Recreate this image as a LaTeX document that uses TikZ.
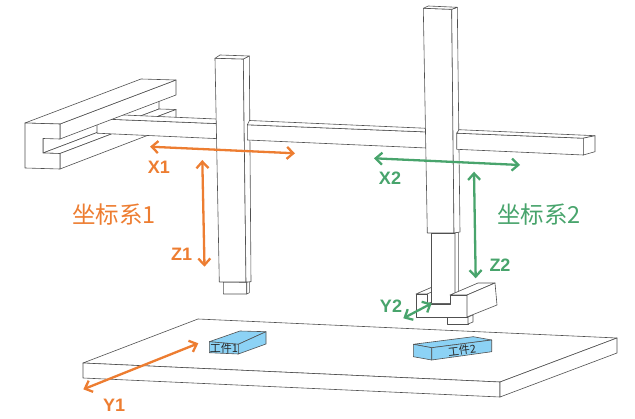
\documentclass[tikz,border=0pt]{standalone}
\usepackage{fontspec}
\setmainfont{Liberation Sans}
\newfontfamily\cjk{Noto Sans CJK SC}
\usetikzlibrary{arrows.meta}
\definecolor{org}{RGB}{237,125,49}
\definecolor{grn}{RGB}{72,164,108}
\definecolor{wp}{RGB}{140,210,245}
\definecolor{ln}{RGB}{80,80,80}
\tikzset{
  face/.style={fill=white,draw=ln,line width=0.6pt,line join=round},
  wpface/.style={fill=wp,draw=ln,line width=0.6pt,line join=round},
  dblarrow/.style={line width=2.3pt,{Straight Barb[length=6.5pt,width=12pt]}-{Straight Barb[length=6.5pt,width=12pt]}},
  axlbl/.style={font=\bfseries\fontsize{18}{18}\selectfont,inner sep=0pt},
  cjklbl/.style={font=\cjk\fontsize{23.5}{23.5}\selectfont,inner sep=0pt},
  wplbl/.style={font=\cjk\fontsize{11}{11}\selectfont,text=black!85,inner sep=0pt}
}
\begin{document}
\begin{tikzpicture}[x=1pt,y=-1pt]
\useasboundingbox (0,0) rectangle (635,419);

% ---------- base plate ----------
\draw[face] (83,363) -- (198,319) -- (617,338) -- (500,382) -- cycle;
\draw[face] (83,363) -- (500,382) -- (500,397) -- (83,378) -- cycle;
\draw[face] (500,382) -- (617,338) -- (617,353) -- (500,397) -- cycle;

% ---------- workpiece 1 ----------
\draw[wpface] (209.3,341.7) -- (240,331) -- (266,331.7) -- (238.3,344.3) -- cycle;
\draw[wpface] (209.3,341.7) -- (238.3,344.3) -- (238.3,354) -- (209.3,352.7) -- cycle;
\draw[wpface] (238.3,344.3) -- (266,331.7) -- (266,344) -- (238.3,354) -- cycle;
\node[wplbl] (w1) at (224,348.5) {工件1};

% ---------- workpiece 2 ----------
\draw[wpface] (413.3,344.3) -- (473.3,336.7) -- (491.7,340) -- (431.7,347.7) -- cycle;
\draw[wpface] (413.3,344.3) -- (431.7,347.7) -- (431.7,360) -- (413.3,356.7) -- cycle;
\draw[wpface] (431.7,347.7) -- (491.7,340) -- (491.7,351.7) -- (431.7,360) -- cycle;
\node[wplbl,rotate=7] (w2) at (462,350.5) {工件2};

% ---------- C channel (back parts) ----------
\draw[face] (43,138.5) -- (159,94.5) -- (159,109) -- (43,153) -- cycle;
\draw[face] (43,153) -- (60,153.5) -- (176,109.5) -- (159,109) -- cycle;
\draw[face] (60,153.5) -- (176,109.5) -- (176,124.5) -- (60,169) -- cycle;

% ---------- beam segment A ----------
\draw[face] (97,118.8) -- (232,124.2) -- (232,139.3) -- (97,133.2) -- cycle;
\draw[face] (97,118.8) -- (112,114.5) -- (232,119.7) -- (232,124.2) -- cycle;

% ---------- C channel (front parts) ----------
\draw[face] (60,124) -- (176,80) -- (176,95) -- (60,139) -- cycle;
\draw[face] (25,123) -- (141,79) -- (176,80) -- (60,124) -- cycle;
\draw[face] (25,123) -- (60,124) -- (60,139) -- (43,138.5) -- (43,153) -- (60,153.5) -- (60,169) -- (25,168) -- cycle;

% ---------- column 1 ----------
\draw[face] (223.3,282) -- (246.7,282.3) -- (246.7,294) -- (223.3,294) -- cycle;
\draw[face] (246.7,282.3) -- (249.3,281.7) -- (249.3,292.7) -- (246.7,294) -- cycle;
\draw[face] (215,58.3) -- (243.3,59) -- (246,282) -- (219.3,282) -- cycle;
\draw[face] (243.3,59) -- (249.3,56) -- (251,281.7) -- (246,282) -- cycle;
\draw[face] (215,58.3) -- (243.3,59) -- (249.3,56) -- (220,55) -- cycle;

% ---------- beam segment B ----------
\draw[face] (247.3,124.8) -- (440,132.5) -- (440,148.6) -- (247.3,140) -- cycle;
\draw[face] (247.3,124.8) -- (249.5,120.5) -- (440,128.9) -- (440,132.5) -- cycle;

% ---------- gripper (back parts) ----------
\draw[face] (447,317) -- (468,317) -- (468,324) -- (447,324) -- cycle;
\draw[face] (468,317) -- (473,315) -- (473,322) -- (468,324) -- cycle;
\draw[face] (416,294) -- (427,294) -- (455,282) -- (444,282) -- cycle;
\draw[face] (427,304) -- (450,304) -- (478,292) -- (455,292) -- cycle;

% ---------- column 2 ----------
\draw[face] (431.7,233) -- (455,233) -- (455,303) -- (431.7,303) -- cycle;
\draw[face] (455,233) -- (458.3,232) -- (458.3,300) -- (455,303) -- cycle;
\draw[face] (423.3,8.3) -- (451.7,9.3) -- (454,233) -- (427.3,233) -- cycle;
\draw[face] (451.7,9.3) -- (457.3,7.3) -- (460,232) -- (454,233) -- cycle;
\draw[face] (423.3,8.3) -- (451.7,9.3) -- (457.3,7.3) -- (428.3,6) -- cycle;

% ---------- gripper (front parts) ----------
\draw[face] (416,294) -- (427,294) -- (427,304) -- (450,304) -- (450,295) -- (467,295) -- (467,317) -- (416,317) -- cycle;
\draw[face] (450,295) -- (467,295) -- (495,283) -- (478,283) -- cycle;
\draw[face] (467,295) -- (495,283) -- (497,305) -- (467,317) -- cycle;

% ---------- beam segment C ----------
\draw[face] (456.7,133.2) -- (583.3,138.2) -- (583.3,155) -- (456.7,149.3) -- cycle;
\draw[face] (456.7,133.2) -- (459,129.7) -- (595,135.7) -- (583.3,138.2) -- cycle;
\draw[face] (583.3,138.2) -- (595,135.7) -- (595,151.7) -- (583.3,155) -- cycle;

% ---------- axis arrows ----------
\coordinate (x1a) at (150,146.7);  \coordinate (x1b) at (295,153.3);
\coordinate (z1a) at (202.3,160);  \coordinate (z1b) at (204.5,266.7);
\coordinate (y1a) at (83.3,389.3); \coordinate (y1b) at (198.3,343.3);
\coordinate (x2a) at (374,158.3);  \coordinate (x2b) at (520,165);
\coordinate (z2a) at (474,171.7);  \coordinate (z2b) at (475.7,278.3);
\coordinate (y2a) at (403.3,318.3); \coordinate (y2b) at (431.7,303.3);

\draw[dblarrow,org] (x1a) -- (x1b);
\draw[dblarrow,org] (z1a) -- (z1b);
\draw[dblarrow,org] (y1a) -- (y1b);
\draw[dblarrow,grn] (x2a) -- (x2b);
\draw[dblarrow,grn] (z2a) -- (z2b);
\draw[dblarrow,grn] (y2a) -- (y2b);

% ---------- labels ----------
\node[axlbl,text=org] (lx1) at (159,167) {X1};
\node[axlbl,text=org] (lz1) at (181.7,254.2) {Z1};
\node[axlbl,text=org] (ly1) at (114.2,405) {Y1};
\node[axlbl,text=grn] (lx2) at (390,178.3) {X2};
\node[axlbl,text=grn] (lz2) at (500,265) {Z2};
\node[axlbl,text=grn] (ly2) at (391,306.7) {Y2};
\node[cjklbl,text=org,anchor=west] (c1) at (72,215) {坐标系1};
\node[cjklbl,text=grn,anchor=west] (c2) at (497,215) {坐标系2};
\end{tikzpicture}
\end{document}
